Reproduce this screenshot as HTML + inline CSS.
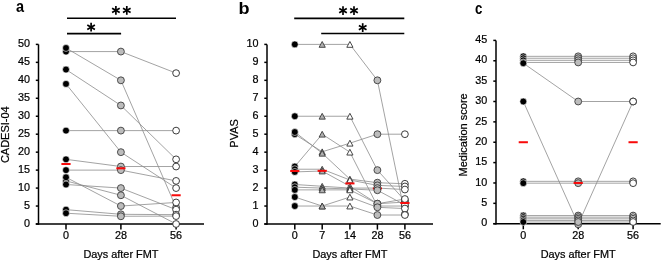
<!DOCTYPE html>
<html><head><meta charset="utf-8"><style>
html,body{margin:0;padding:0;background:#fff;}
svg{display:block;will-change:transform;font-family:"Liberation Sans",sans-serif;}
</style></head><body>
<svg width="669" height="262" viewBox="0 0 669 262">
<line x1="38.5" y1="44.4" x2="38.5" y2="224.75" stroke="#000" stroke-width="1.5"/>
<line x1="35.8" y1="224" x2="204" y2="224" stroke="#000" stroke-width="1.4"/>
<line x1="35.8" y1="224" x2="38.5" y2="224" stroke="#000" stroke-width="1.5"/>
<text x="30" y="226.7" font-size="10.8" text-anchor="end" font-weight="normal" fill="#000" stroke="#000" stroke-width="0.22">0</text>
<line x1="35.8" y1="206.04" x2="38.5" y2="206.04" stroke="#000" stroke-width="1.5"/>
<text x="30" y="208.74" font-size="10.8" text-anchor="end" font-weight="normal" fill="#000" stroke="#000" stroke-width="0.22">5</text>
<line x1="35.8" y1="188.08" x2="38.5" y2="188.08" stroke="#000" stroke-width="1.5"/>
<text x="30" y="190.78" font-size="10.8" text-anchor="end" font-weight="normal" fill="#000" stroke="#000" stroke-width="0.22">10</text>
<line x1="35.8" y1="170.12" x2="38.5" y2="170.12" stroke="#000" stroke-width="1.5"/>
<text x="30" y="172.82" font-size="10.8" text-anchor="end" font-weight="normal" fill="#000" stroke="#000" stroke-width="0.22">15</text>
<line x1="35.8" y1="152.16" x2="38.5" y2="152.16" stroke="#000" stroke-width="1.5"/>
<text x="30" y="154.86" font-size="10.8" text-anchor="end" font-weight="normal" fill="#000" stroke="#000" stroke-width="0.22">20</text>
<line x1="35.8" y1="134.2" x2="38.5" y2="134.2" stroke="#000" stroke-width="1.5"/>
<text x="30" y="136.9" font-size="10.8" text-anchor="end" font-weight="normal" fill="#000" stroke="#000" stroke-width="0.22">25</text>
<line x1="35.8" y1="116.24" x2="38.5" y2="116.24" stroke="#000" stroke-width="1.5"/>
<text x="30" y="118.94" font-size="10.8" text-anchor="end" font-weight="normal" fill="#000" stroke="#000" stroke-width="0.22">30</text>
<line x1="35.8" y1="98.28" x2="38.5" y2="98.28" stroke="#000" stroke-width="1.5"/>
<text x="30" y="100.98" font-size="10.8" text-anchor="end" font-weight="normal" fill="#000" stroke="#000" stroke-width="0.22">35</text>
<line x1="35.8" y1="80.32" x2="38.5" y2="80.32" stroke="#000" stroke-width="1.5"/>
<text x="30" y="83.02" font-size="10.8" text-anchor="end" font-weight="normal" fill="#000" stroke="#000" stroke-width="0.22">40</text>
<line x1="35.8" y1="62.36" x2="38.5" y2="62.36" stroke="#000" stroke-width="1.5"/>
<text x="30" y="65.06" font-size="10.8" text-anchor="end" font-weight="normal" fill="#000" stroke="#000" stroke-width="0.22">45</text>
<line x1="35.8" y1="44.4" x2="38.5" y2="44.4" stroke="#000" stroke-width="1.5"/>
<text x="30" y="47.1" font-size="10.8" text-anchor="end" font-weight="normal" fill="#000" stroke="#000" stroke-width="0.22">50</text>
<line x1="66" y1="224" x2="66" y2="229.6" stroke="#000" stroke-width="1.5"/>
<text x="66" y="238.9" font-size="10.8" text-anchor="middle" font-weight="normal" fill="#000" stroke="#000" stroke-width="0.22">0</text>
<line x1="120.9" y1="224" x2="120.9" y2="229.6" stroke="#000" stroke-width="1.5"/>
<text x="120.9" y="238.9" font-size="10.8" text-anchor="middle" font-weight="normal" fill="#000" stroke="#000" stroke-width="0.22">28</text>
<line x1="176.1" y1="224" x2="176.1" y2="229.6" stroke="#000" stroke-width="1.5"/>
<text x="176.1" y="238.9" font-size="10.8" text-anchor="middle" font-weight="normal" fill="#000" stroke="#000" stroke-width="0.22">56</text>
<line x1="66" y1="51.58" x2="120.9" y2="51.58" stroke="#8c8c8c" stroke-width="0.8"/>
<line x1="120.9" y1="51.58" x2="176.1" y2="73.14" stroke="#8c8c8c" stroke-width="0.8"/>
<line x1="66" y1="47.99" x2="120.9" y2="80.32" stroke="#8c8c8c" stroke-width="0.8"/>
<line x1="120.9" y1="80.32" x2="176.1" y2="207.48" stroke="#8c8c8c" stroke-width="0.8"/>
<line x1="66" y1="69.54" x2="120.9" y2="105.46" stroke="#8c8c8c" stroke-width="0.8"/>
<line x1="120.9" y1="105.46" x2="176.1" y2="159.34" stroke="#8c8c8c" stroke-width="0.8"/>
<line x1="66" y1="83.91" x2="120.9" y2="152.16" stroke="#8c8c8c" stroke-width="0.8"/>
<line x1="120.9" y1="152.16" x2="176.1" y2="188.08" stroke="#8c8c8c" stroke-width="0.8"/>
<line x1="66" y1="130.61" x2="120.9" y2="130.61" stroke="#8c8c8c" stroke-width="0.8"/>
<line x1="120.9" y1="130.61" x2="176.1" y2="130.61" stroke="#8c8c8c" stroke-width="0.8"/>
<line x1="66" y1="159.34" x2="120.9" y2="166.53" stroke="#8c8c8c" stroke-width="0.8"/>
<line x1="120.9" y1="166.53" x2="176.1" y2="166.53" stroke="#8c8c8c" stroke-width="0.8"/>
<line x1="66" y1="170.12" x2="120.9" y2="170.12" stroke="#8c8c8c" stroke-width="0.8"/>
<line x1="120.9" y1="170.12" x2="176.1" y2="180.9" stroke="#8c8c8c" stroke-width="0.8"/>
<line x1="66" y1="180.9" x2="120.9" y2="195.26" stroke="#8c8c8c" stroke-width="0.8"/>
<line x1="120.9" y1="195.26" x2="176.1" y2="224" stroke="#8c8c8c" stroke-width="0.8"/>
<line x1="66" y1="184.49" x2="120.9" y2="188.08" stroke="#8c8c8c" stroke-width="0.8"/>
<line x1="120.9" y1="188.08" x2="176.1" y2="209.63" stroke="#8c8c8c" stroke-width="0.8"/>
<line x1="66" y1="177.3" x2="120.9" y2="206.04" stroke="#8c8c8c" stroke-width="0.8"/>
<line x1="120.9" y1="206.04" x2="176.1" y2="202.45" stroke="#8c8c8c" stroke-width="0.8"/>
<line x1="66" y1="209.63" x2="120.9" y2="214.3" stroke="#8c8c8c" stroke-width="0.8"/>
<line x1="120.9" y1="214.3" x2="176.1" y2="214.66" stroke="#8c8c8c" stroke-width="0.8"/>
<line x1="66" y1="213.22" x2="120.9" y2="216.28" stroke="#8c8c8c" stroke-width="0.8"/>
<line x1="120.9" y1="216.28" x2="176.1" y2="216.1" stroke="#8c8c8c" stroke-width="0.8"/>
<circle cx="66" cy="51.58" r="3.45" fill="#000" stroke="#fff" stroke-width="0.6"/>
<circle cx="66" cy="47.99" r="3.45" fill="#000" stroke="#fff" stroke-width="0.6"/>
<circle cx="66" cy="69.54" r="3.45" fill="#000" stroke="#fff" stroke-width="0.6"/>
<circle cx="66" cy="83.91" r="3.45" fill="#000" stroke="#fff" stroke-width="0.6"/>
<circle cx="66" cy="130.61" r="3.45" fill="#000" stroke="#fff" stroke-width="0.6"/>
<circle cx="66" cy="159.34" r="3.45" fill="#000" stroke="#fff" stroke-width="0.6"/>
<circle cx="66" cy="170.12" r="3.45" fill="#000" stroke="#fff" stroke-width="0.6"/>
<circle cx="66" cy="180.9" r="3.45" fill="#000" stroke="#fff" stroke-width="0.6"/>
<circle cx="66" cy="184.49" r="3.45" fill="#000" stroke="#fff" stroke-width="0.6"/>
<circle cx="66" cy="177.3" r="3.45" fill="#000" stroke="#fff" stroke-width="0.6"/>
<circle cx="66" cy="209.63" r="3.45" fill="#000" stroke="#fff" stroke-width="0.6"/>
<circle cx="66" cy="213.22" r="3.45" fill="#000" stroke="#fff" stroke-width="0.6"/>
<circle cx="120.9" cy="51.58" r="3.45" fill="#bcbcbc" stroke="#3c3c3c" stroke-width="0.9"/>
<circle cx="120.9" cy="80.32" r="3.45" fill="#bcbcbc" stroke="#3c3c3c" stroke-width="0.9"/>
<circle cx="120.9" cy="105.46" r="3.45" fill="#bcbcbc" stroke="#3c3c3c" stroke-width="0.9"/>
<circle cx="120.9" cy="152.16" r="3.45" fill="#bcbcbc" stroke="#3c3c3c" stroke-width="0.9"/>
<circle cx="120.9" cy="130.61" r="3.45" fill="#bcbcbc" stroke="#3c3c3c" stroke-width="0.9"/>
<circle cx="120.9" cy="166.53" r="3.45" fill="#bcbcbc" stroke="#3c3c3c" stroke-width="0.9"/>
<circle cx="120.9" cy="170.12" r="3.45" fill="#bcbcbc" stroke="#3c3c3c" stroke-width="0.9"/>
<circle cx="120.9" cy="195.26" r="3.45" fill="#bcbcbc" stroke="#3c3c3c" stroke-width="0.9"/>
<circle cx="120.9" cy="188.08" r="3.45" fill="#bcbcbc" stroke="#3c3c3c" stroke-width="0.9"/>
<circle cx="120.9" cy="206.04" r="3.45" fill="#bcbcbc" stroke="#3c3c3c" stroke-width="0.9"/>
<circle cx="120.9" cy="214.3" r="3.45" fill="#bcbcbc" stroke="#3c3c3c" stroke-width="0.9"/>
<circle cx="120.9" cy="216.28" r="3.45" fill="#bcbcbc" stroke="#3c3c3c" stroke-width="0.9"/>
<circle cx="176.1" cy="73.14" r="3.4" fill="#fff" stroke="#262626" stroke-width="0.9"/>
<circle cx="176.1" cy="207.48" r="3.4" fill="#fff" stroke="#262626" stroke-width="0.9"/>
<circle cx="176.1" cy="159.34" r="3.4" fill="#fff" stroke="#262626" stroke-width="0.9"/>
<circle cx="176.1" cy="188.08" r="3.4" fill="#fff" stroke="#262626" stroke-width="0.9"/>
<circle cx="176.1" cy="130.61" r="3.4" fill="#fff" stroke="#262626" stroke-width="0.9"/>
<circle cx="176.1" cy="166.53" r="3.4" fill="#fff" stroke="#262626" stroke-width="0.9"/>
<circle cx="176.1" cy="180.9" r="3.4" fill="#fff" stroke="#262626" stroke-width="0.9"/>
<circle cx="176.1" cy="224" r="3.4" fill="#fff" stroke="#262626" stroke-width="0.9"/>
<circle cx="176.1" cy="209.63" r="3.4" fill="#fff" stroke="#262626" stroke-width="0.9"/>
<circle cx="176.1" cy="202.45" r="3.4" fill="#fff" stroke="#262626" stroke-width="0.9"/>
<circle cx="176.1" cy="214.66" r="3.4" fill="#fff" stroke="#262626" stroke-width="0.9"/>
<circle cx="176.1" cy="216.1" r="3.4" fill="#fff" stroke="#262626" stroke-width="0.9"/>
<rect x="61.4" y="163.01" width="9.2" height="2.0" fill="#f80a0a"/>
<rect x="116.3" y="167.32" width="9.2" height="2.0" fill="#f80a0a"/>
<rect x="171.5" y="194.26" width="9.2" height="2.0" fill="#f80a0a"/>
<text x="120.9" y="258.3" font-size="10.9" text-anchor="middle" font-weight="normal" fill="#000" stroke="#000" stroke-width="0.22">Days after FMT</text>
<text x="9.2" y="134.7" font-size="11" text-anchor="middle" font-weight="normal" transform="rotate(-90 9.2 134.7)" fill="#000" stroke="#000" stroke-width="0.22">CADESI-04</text>
<line x1="267" y1="44.4" x2="267" y2="224.75" stroke="#000" stroke-width="1.5"/>
<line x1="264.3" y1="224" x2="433" y2="224" stroke="#000" stroke-width="1.4"/>
<line x1="264.3" y1="224" x2="267" y2="224" stroke="#000" stroke-width="1.5"/>
<text x="258.5" y="226.7" font-size="10.8" text-anchor="end" font-weight="normal" fill="#000" stroke="#000" stroke-width="0.22">0</text>
<line x1="264.3" y1="206.04" x2="267" y2="206.04" stroke="#000" stroke-width="1.5"/>
<text x="258.5" y="208.74" font-size="10.8" text-anchor="end" font-weight="normal" fill="#000" stroke="#000" stroke-width="0.22">1</text>
<line x1="264.3" y1="188.08" x2="267" y2="188.08" stroke="#000" stroke-width="1.5"/>
<text x="258.5" y="190.78" font-size="10.8" text-anchor="end" font-weight="normal" fill="#000" stroke="#000" stroke-width="0.22">2</text>
<line x1="264.3" y1="170.12" x2="267" y2="170.12" stroke="#000" stroke-width="1.5"/>
<text x="258.5" y="172.82" font-size="10.8" text-anchor="end" font-weight="normal" fill="#000" stroke="#000" stroke-width="0.22">3</text>
<line x1="264.3" y1="152.16" x2="267" y2="152.16" stroke="#000" stroke-width="1.5"/>
<text x="258.5" y="154.86" font-size="10.8" text-anchor="end" font-weight="normal" fill="#000" stroke="#000" stroke-width="0.22">4</text>
<line x1="264.3" y1="134.2" x2="267" y2="134.2" stroke="#000" stroke-width="1.5"/>
<text x="258.5" y="136.9" font-size="10.8" text-anchor="end" font-weight="normal" fill="#000" stroke="#000" stroke-width="0.22">5</text>
<line x1="264.3" y1="116.24" x2="267" y2="116.24" stroke="#000" stroke-width="1.5"/>
<text x="258.5" y="118.94" font-size="10.8" text-anchor="end" font-weight="normal" fill="#000" stroke="#000" stroke-width="0.22">6</text>
<line x1="264.3" y1="98.28" x2="267" y2="98.28" stroke="#000" stroke-width="1.5"/>
<text x="258.5" y="100.98" font-size="10.8" text-anchor="end" font-weight="normal" fill="#000" stroke="#000" stroke-width="0.22">7</text>
<line x1="264.3" y1="80.32" x2="267" y2="80.32" stroke="#000" stroke-width="1.5"/>
<text x="258.5" y="83.02" font-size="10.8" text-anchor="end" font-weight="normal" fill="#000" stroke="#000" stroke-width="0.22">8</text>
<line x1="264.3" y1="62.36" x2="267" y2="62.36" stroke="#000" stroke-width="1.5"/>
<text x="258.5" y="65.06" font-size="10.8" text-anchor="end" font-weight="normal" fill="#000" stroke="#000" stroke-width="0.22">9</text>
<line x1="264.3" y1="44.4" x2="267" y2="44.4" stroke="#000" stroke-width="1.5"/>
<text x="258.5" y="47.1" font-size="10.8" text-anchor="end" font-weight="normal" fill="#000" stroke="#000" stroke-width="0.22">10</text>
<line x1="294.8" y1="224" x2="294.8" y2="229.6" stroke="#000" stroke-width="1.5"/>
<text x="294.8" y="238.9" font-size="10.8" text-anchor="middle" font-weight="normal" fill="#000" stroke="#000" stroke-width="0.22">0</text>
<line x1="322.2" y1="224" x2="322.2" y2="229.6" stroke="#000" stroke-width="1.5"/>
<text x="322.2" y="238.9" font-size="10.8" text-anchor="middle" font-weight="normal" fill="#000" stroke="#000" stroke-width="0.22">7</text>
<line x1="349.9" y1="224" x2="349.9" y2="229.6" stroke="#000" stroke-width="1.5"/>
<text x="349.9" y="238.9" font-size="10.8" text-anchor="middle" font-weight="normal" fill="#000" stroke="#000" stroke-width="0.22">14</text>
<line x1="377.4" y1="224" x2="377.4" y2="229.6" stroke="#000" stroke-width="1.5"/>
<text x="377.4" y="238.9" font-size="10.8" text-anchor="middle" font-weight="normal" fill="#000" stroke="#000" stroke-width="0.22">28</text>
<line x1="404.9" y1="224" x2="404.9" y2="229.6" stroke="#000" stroke-width="1.5"/>
<text x="404.9" y="238.9" font-size="10.8" text-anchor="middle" font-weight="normal" fill="#000" stroke="#000" stroke-width="0.22">56</text>
<line x1="294.8" y1="44.4" x2="322.2" y2="44.4" stroke="#8c8c8c" stroke-width="0.8"/>
<line x1="322.2" y1="44.4" x2="349.9" y2="44.4" stroke="#8c8c8c" stroke-width="0.8"/>
<line x1="349.9" y1="44.4" x2="377.4" y2="80.32" stroke="#8c8c8c" stroke-width="0.8"/>
<line x1="377.4" y1="80.32" x2="404.9" y2="214.12" stroke="#8c8c8c" stroke-width="0.8"/>
<line x1="294.8" y1="116.24" x2="322.2" y2="116.24" stroke="#8c8c8c" stroke-width="0.8"/>
<line x1="322.2" y1="116.24" x2="349.9" y2="116.24" stroke="#8c8c8c" stroke-width="0.8"/>
<line x1="349.9" y1="116.24" x2="377.4" y2="170.12" stroke="#8c8c8c" stroke-width="0.8"/>
<line x1="377.4" y1="170.12" x2="404.9" y2="200.65" stroke="#8c8c8c" stroke-width="0.8"/>
<line x1="294.8" y1="134.2" x2="322.2" y2="151.8" stroke="#8c8c8c" stroke-width="0.8"/>
<line x1="322.2" y1="151.8" x2="349.9" y2="143.18" stroke="#8c8c8c" stroke-width="0.8"/>
<line x1="349.9" y1="143.18" x2="377.4" y2="134.2" stroke="#8c8c8c" stroke-width="0.8"/>
<line x1="377.4" y1="134.2" x2="404.9" y2="134.2" stroke="#8c8c8c" stroke-width="0.8"/>
<line x1="294.8" y1="132.04" x2="322.2" y2="153.24" stroke="#8c8c8c" stroke-width="0.8"/>
<line x1="322.2" y1="153.24" x2="349.9" y2="179.1" stroke="#8c8c8c" stroke-width="0.8"/>
<line x1="349.9" y1="179.1" x2="377.4" y2="182.69" stroke="#8c8c8c" stroke-width="0.8"/>
<line x1="377.4" y1="182.69" x2="404.9" y2="183.77" stroke="#8c8c8c" stroke-width="0.8"/>
<line x1="294.8" y1="166.53" x2="322.2" y2="134.2" stroke="#8c8c8c" stroke-width="0.8"/>
<line x1="322.2" y1="134.2" x2="349.9" y2="152.16" stroke="#8c8c8c" stroke-width="0.8"/>
<line x1="349.9" y1="152.16" x2="377.4" y2="206.04" stroke="#8c8c8c" stroke-width="0.8"/>
<line x1="377.4" y1="206.04" x2="404.9" y2="206.04" stroke="#8c8c8c" stroke-width="0.8"/>
<line x1="294.8" y1="169.22" x2="322.2" y2="169.22" stroke="#8c8c8c" stroke-width="0.8"/>
<line x1="322.2" y1="169.22" x2="349.9" y2="180" stroke="#8c8c8c" stroke-width="0.8"/>
<line x1="349.9" y1="180" x2="377.4" y2="185.39" stroke="#8c8c8c" stroke-width="0.8"/>
<line x1="377.4" y1="185.39" x2="404.9" y2="186.46" stroke="#8c8c8c" stroke-width="0.8"/>
<line x1="294.8" y1="171.92" x2="322.2" y2="171.02" stroke="#8c8c8c" stroke-width="0.8"/>
<line x1="322.2" y1="171.02" x2="349.9" y2="186.28" stroke="#8c8c8c" stroke-width="0.8"/>
<line x1="349.9" y1="186.28" x2="377.4" y2="203.71" stroke="#8c8c8c" stroke-width="0.8"/>
<line x1="377.4" y1="203.71" x2="404.9" y2="202.09" stroke="#8c8c8c" stroke-width="0.8"/>
<line x1="294.8" y1="184.49" x2="322.2" y2="186.28" stroke="#8c8c8c" stroke-width="0.8"/>
<line x1="322.2" y1="186.28" x2="349.9" y2="188.08" stroke="#8c8c8c" stroke-width="0.8"/>
<line x1="349.9" y1="188.08" x2="377.4" y2="188.08" stroke="#8c8c8c" stroke-width="0.8"/>
<line x1="377.4" y1="188.08" x2="404.9" y2="189.52" stroke="#8c8c8c" stroke-width="0.8"/>
<line x1="294.8" y1="187.18" x2="322.2" y2="188.08" stroke="#8c8c8c" stroke-width="0.8"/>
<line x1="322.2" y1="188.08" x2="349.9" y2="188.98" stroke="#8c8c8c" stroke-width="0.8"/>
<line x1="349.9" y1="188.98" x2="377.4" y2="190.24" stroke="#8c8c8c" stroke-width="0.8"/>
<line x1="377.4" y1="190.24" x2="404.9" y2="204.96" stroke="#8c8c8c" stroke-width="0.8"/>
<line x1="294.8" y1="189.88" x2="322.2" y2="189.88" stroke="#8c8c8c" stroke-width="0.8"/>
<line x1="322.2" y1="189.88" x2="349.9" y2="189.88" stroke="#8c8c8c" stroke-width="0.8"/>
<line x1="349.9" y1="189.88" x2="377.4" y2="203.71" stroke="#8c8c8c" stroke-width="0.8"/>
<line x1="377.4" y1="203.71" x2="404.9" y2="199.04" stroke="#8c8c8c" stroke-width="0.8"/>
<line x1="294.8" y1="197.06" x2="322.2" y2="206.04" stroke="#8c8c8c" stroke-width="0.8"/>
<line x1="322.2" y1="206.04" x2="349.9" y2="197.06" stroke="#8c8c8c" stroke-width="0.8"/>
<line x1="349.9" y1="197.06" x2="377.4" y2="207.3" stroke="#8c8c8c" stroke-width="0.8"/>
<line x1="377.4" y1="207.3" x2="404.9" y2="208.55" stroke="#8c8c8c" stroke-width="0.8"/>
<line x1="294.8" y1="206.04" x2="322.2" y2="206.04" stroke="#8c8c8c" stroke-width="0.8"/>
<line x1="322.2" y1="206.04" x2="349.9" y2="206.04" stroke="#8c8c8c" stroke-width="0.8"/>
<line x1="349.9" y1="206.04" x2="377.4" y2="215.02" stroke="#8c8c8c" stroke-width="0.8"/>
<line x1="377.4" y1="215.02" x2="404.9" y2="215.02" stroke="#8c8c8c" stroke-width="0.8"/>
<rect x="372.8" y="187.44" width="9.2" height="2.0" fill="#f80a0a"/>
<circle cx="294.8" cy="44.4" r="3.45" fill="#000" stroke="#fff" stroke-width="0.6"/>
<circle cx="294.8" cy="116.24" r="3.45" fill="#000" stroke="#fff" stroke-width="0.6"/>
<circle cx="294.8" cy="134.2" r="3.45" fill="#000" stroke="#fff" stroke-width="0.6"/>
<circle cx="294.8" cy="132.04" r="3.45" fill="#000" stroke="#fff" stroke-width="0.6"/>
<circle cx="294.8" cy="166.53" r="3.45" fill="#000" stroke="#fff" stroke-width="0.6"/>
<circle cx="294.8" cy="169.22" r="3.45" fill="#000" stroke="#fff" stroke-width="0.6"/>
<circle cx="294.8" cy="171.92" r="3.45" fill="#000" stroke="#fff" stroke-width="0.6"/>
<circle cx="294.8" cy="184.49" r="3.45" fill="#000" stroke="#fff" stroke-width="0.6"/>
<circle cx="294.8" cy="187.18" r="3.45" fill="#000" stroke="#fff" stroke-width="0.6"/>
<circle cx="294.8" cy="189.88" r="3.45" fill="#000" stroke="#fff" stroke-width="0.6"/>
<circle cx="294.8" cy="197.06" r="3.45" fill="#000" stroke="#fff" stroke-width="0.6"/>
<circle cx="294.8" cy="206.04" r="3.45" fill="#000" stroke="#fff" stroke-width="0.6"/>
<path d="M322.2 41.5L325.3 47.3L319.1 47.3Z" fill="#b0b0b0" stroke="#3a3a3a" stroke-width="0.9" stroke-linejoin="miter"/>
<path d="M322.2 113.34L325.3 119.14L319.1 119.14Z" fill="#b0b0b0" stroke="#3a3a3a" stroke-width="0.9" stroke-linejoin="miter"/>
<path d="M322.2 148.9L325.3 154.7L319.1 154.7Z" fill="#b0b0b0" stroke="#3a3a3a" stroke-width="0.9" stroke-linejoin="miter"/>
<path d="M322.2 150.34L325.3 156.14L319.1 156.14Z" fill="#b0b0b0" stroke="#3a3a3a" stroke-width="0.9" stroke-linejoin="miter"/>
<path d="M322.2 131.3L325.3 137.1L319.1 137.1Z" fill="#b0b0b0" stroke="#3a3a3a" stroke-width="0.9" stroke-linejoin="miter"/>
<path d="M322.2 166.32L325.3 172.12L319.1 172.12Z" fill="#b0b0b0" stroke="#3a3a3a" stroke-width="0.9" stroke-linejoin="miter"/>
<path d="M322.2 168.12L325.3 173.92L319.1 173.92Z" fill="#b0b0b0" stroke="#3a3a3a" stroke-width="0.9" stroke-linejoin="miter"/>
<path d="M322.2 183.38L325.3 189.18L319.1 189.18Z" fill="#b0b0b0" stroke="#3a3a3a" stroke-width="0.9" stroke-linejoin="miter"/>
<path d="M322.2 185.18L325.3 190.98L319.1 190.98Z" fill="#b0b0b0" stroke="#3a3a3a" stroke-width="0.9" stroke-linejoin="miter"/>
<path d="M322.2 186.98L325.3 192.78L319.1 192.78Z" fill="#b0b0b0" stroke="#3a3a3a" stroke-width="0.9" stroke-linejoin="miter"/>
<path d="M322.2 203.14L325.3 208.94L319.1 208.94Z" fill="#b0b0b0" stroke="#3a3a3a" stroke-width="0.9" stroke-linejoin="miter"/>
<path d="M322.2 203.14L325.3 208.94L319.1 208.94Z" fill="#b0b0b0" stroke="#3a3a3a" stroke-width="0.9" stroke-linejoin="miter"/>
<path d="M349.9 41.5L353 47.3L346.8 47.3Z" fill="#fff" stroke="#333" stroke-width="0.9" stroke-linejoin="miter"/>
<path d="M349.9 113.34L353 119.14L346.8 119.14Z" fill="#fff" stroke="#333" stroke-width="0.9" stroke-linejoin="miter"/>
<path d="M349.9 140.28L353 146.08L346.8 146.08Z" fill="#fff" stroke="#333" stroke-width="0.9" stroke-linejoin="miter"/>
<path d="M349.9 176.2L353 182L346.8 182Z" fill="#fff" stroke="#333" stroke-width="0.9" stroke-linejoin="miter"/>
<path d="M349.9 149.26L353 155.06L346.8 155.06Z" fill="#fff" stroke="#333" stroke-width="0.9" stroke-linejoin="miter"/>
<path d="M349.9 177.1L353 182.9L346.8 182.9Z" fill="#fff" stroke="#333" stroke-width="0.9" stroke-linejoin="miter"/>
<path d="M349.9 183.38L353 189.18L346.8 189.18Z" fill="#fff" stroke="#333" stroke-width="0.9" stroke-linejoin="miter"/>
<path d="M349.9 185.18L353 190.98L346.8 190.98Z" fill="#fff" stroke="#333" stroke-width="0.9" stroke-linejoin="miter"/>
<path d="M349.9 186.08L353 191.88L346.8 191.88Z" fill="#fff" stroke="#333" stroke-width="0.9" stroke-linejoin="miter"/>
<path d="M349.9 186.98L353 192.78L346.8 192.78Z" fill="#fff" stroke="#333" stroke-width="0.9" stroke-linejoin="miter"/>
<path d="M349.9 194.16L353 199.96L346.8 199.96Z" fill="#fff" stroke="#333" stroke-width="0.9" stroke-linejoin="miter"/>
<path d="M349.9 203.14L353 208.94L346.8 208.94Z" fill="#fff" stroke="#333" stroke-width="0.9" stroke-linejoin="miter"/>
<circle cx="377.4" cy="80.32" r="3.45" fill="#bcbcbc" stroke="#3c3c3c" stroke-width="0.9"/>
<circle cx="377.4" cy="170.12" r="3.45" fill="#bcbcbc" stroke="#3c3c3c" stroke-width="0.9"/>
<circle cx="377.4" cy="134.2" r="3.45" fill="#bcbcbc" stroke="#3c3c3c" stroke-width="0.9"/>
<circle cx="377.4" cy="182.69" r="3.45" fill="#bcbcbc" stroke="#3c3c3c" stroke-width="0.9"/>
<circle cx="377.4" cy="206.04" r="3.45" fill="#bcbcbc" stroke="#3c3c3c" stroke-width="0.9"/>
<circle cx="377.4" cy="185.39" r="3.45" fill="#bcbcbc" stroke="#3c3c3c" stroke-width="0.9"/>
<circle cx="377.4" cy="203.71" r="3.45" fill="#bcbcbc" stroke="#3c3c3c" stroke-width="0.9"/>
<circle cx="377.4" cy="188.08" r="3.45" fill="#bcbcbc" stroke="#3c3c3c" stroke-width="0.9"/>
<circle cx="377.4" cy="190.24" r="3.45" fill="#bcbcbc" stroke="#3c3c3c" stroke-width="0.9"/>
<circle cx="377.4" cy="203.71" r="3.45" fill="#bcbcbc" stroke="#3c3c3c" stroke-width="0.9"/>
<circle cx="377.4" cy="207.3" r="3.45" fill="#bcbcbc" stroke="#3c3c3c" stroke-width="0.9"/>
<circle cx="377.4" cy="215.02" r="3.45" fill="#bcbcbc" stroke="#3c3c3c" stroke-width="0.9"/>
<circle cx="404.9" cy="214.12" r="3.4" fill="#fff" stroke="#262626" stroke-width="0.9"/>
<circle cx="404.9" cy="200.65" r="3.4" fill="#fff" stroke="#262626" stroke-width="0.9"/>
<circle cx="404.9" cy="134.2" r="3.4" fill="#fff" stroke="#262626" stroke-width="0.9"/>
<circle cx="404.9" cy="183.77" r="3.4" fill="#fff" stroke="#262626" stroke-width="0.9"/>
<circle cx="404.9" cy="206.04" r="3.4" fill="#fff" stroke="#262626" stroke-width="0.9"/>
<circle cx="404.9" cy="186.46" r="3.4" fill="#fff" stroke="#262626" stroke-width="0.9"/>
<circle cx="404.9" cy="202.09" r="3.4" fill="#fff" stroke="#262626" stroke-width="0.9"/>
<circle cx="404.9" cy="189.52" r="3.4" fill="#fff" stroke="#262626" stroke-width="0.9"/>
<circle cx="404.9" cy="204.96" r="3.4" fill="#fff" stroke="#262626" stroke-width="0.9"/>
<circle cx="404.9" cy="199.04" r="3.4" fill="#fff" stroke="#262626" stroke-width="0.9"/>
<circle cx="404.9" cy="208.55" r="3.4" fill="#fff" stroke="#262626" stroke-width="0.9"/>
<circle cx="404.9" cy="215.02" r="3.4" fill="#fff" stroke="#262626" stroke-width="0.9"/>
<rect x="290.2" y="170.02" width="9.2" height="2.0" fill="#f80a0a"/>
<rect x="317.6" y="169.84" width="9.2" height="2.0" fill="#f80a0a"/>
<rect x="345.3" y="182.41" width="9.2" height="2.0" fill="#f80a0a"/>
<rect x="400.3" y="201.99" width="9.2" height="2.0" fill="#f80a0a"/>
<text x="349.9" y="258.3" font-size="10.9" text-anchor="middle" font-weight="normal" fill="#000" stroke="#000" stroke-width="0.22">Days after FMT</text>
<text x="238.3" y="133.4" font-size="11" text-anchor="middle" font-weight="normal" transform="rotate(-90 238.3 133.4)" fill="#000" stroke="#000" stroke-width="0.22">PVAS</text>
<line x1="496" y1="40.4" x2="496" y2="224.45" stroke="#000" stroke-width="1.5"/>
<line x1="493.3" y1="223.7" x2="660.7" y2="223.7" stroke="#000" stroke-width="1.4"/>
<line x1="493.3" y1="223.7" x2="496" y2="223.7" stroke="#000" stroke-width="1.5"/>
<text x="487.3" y="226.4" font-size="10.8" text-anchor="end" font-weight="normal" fill="#000" stroke="#000" stroke-width="0.22">0</text>
<line x1="493.3" y1="203.33" x2="496" y2="203.33" stroke="#000" stroke-width="1.5"/>
<text x="487.3" y="206.03" font-size="10.8" text-anchor="end" font-weight="normal" fill="#000" stroke="#000" stroke-width="0.22">5</text>
<line x1="493.3" y1="182.97" x2="496" y2="182.97" stroke="#000" stroke-width="1.5"/>
<text x="487.3" y="185.67" font-size="10.8" text-anchor="end" font-weight="normal" fill="#000" stroke="#000" stroke-width="0.22">10</text>
<line x1="493.3" y1="162.6" x2="496" y2="162.6" stroke="#000" stroke-width="1.5"/>
<text x="487.3" y="165.3" font-size="10.8" text-anchor="end" font-weight="normal" fill="#000" stroke="#000" stroke-width="0.22">15</text>
<line x1="493.3" y1="142.23" x2="496" y2="142.23" stroke="#000" stroke-width="1.5"/>
<text x="487.3" y="144.93" font-size="10.8" text-anchor="end" font-weight="normal" fill="#000" stroke="#000" stroke-width="0.22">20</text>
<line x1="493.3" y1="121.87" x2="496" y2="121.87" stroke="#000" stroke-width="1.5"/>
<text x="487.3" y="124.57" font-size="10.8" text-anchor="end" font-weight="normal" fill="#000" stroke="#000" stroke-width="0.22">25</text>
<line x1="493.3" y1="101.5" x2="496" y2="101.5" stroke="#000" stroke-width="1.5"/>
<text x="487.3" y="104.2" font-size="10.8" text-anchor="end" font-weight="normal" fill="#000" stroke="#000" stroke-width="0.22">30</text>
<line x1="493.3" y1="81.13" x2="496" y2="81.13" stroke="#000" stroke-width="1.5"/>
<text x="487.3" y="83.83" font-size="10.8" text-anchor="end" font-weight="normal" fill="#000" stroke="#000" stroke-width="0.22">35</text>
<line x1="493.3" y1="60.77" x2="496" y2="60.77" stroke="#000" stroke-width="1.5"/>
<text x="487.3" y="63.47" font-size="10.8" text-anchor="end" font-weight="normal" fill="#000" stroke="#000" stroke-width="0.22">40</text>
<line x1="493.3" y1="40.4" x2="496" y2="40.4" stroke="#000" stroke-width="1.5"/>
<text x="487.3" y="43.1" font-size="10.8" text-anchor="end" font-weight="normal" fill="#000" stroke="#000" stroke-width="0.22">45</text>
<line x1="523.3" y1="223.7" x2="523.3" y2="229.3" stroke="#000" stroke-width="1.5"/>
<text x="523.3" y="238.9" font-size="10.8" text-anchor="middle" font-weight="normal" fill="#000" stroke="#000" stroke-width="0.22">0</text>
<line x1="578.2" y1="223.7" x2="578.2" y2="229.3" stroke="#000" stroke-width="1.5"/>
<text x="578.2" y="238.9" font-size="10.8" text-anchor="middle" font-weight="normal" fill="#000" stroke="#000" stroke-width="0.22">28</text>
<line x1="633.1" y1="223.7" x2="633.1" y2="229.3" stroke="#000" stroke-width="1.5"/>
<text x="633.1" y="238.9" font-size="10.8" text-anchor="middle" font-weight="normal" fill="#000" stroke="#000" stroke-width="0.22">56</text>
<line x1="523.3" y1="56.33" x2="578.2" y2="56.33" stroke="#8c8c8c" stroke-width="0.8"/>
<line x1="578.2" y1="56.33" x2="633.1" y2="56.33" stroke="#8c8c8c" stroke-width="0.8"/>
<line x1="523.3" y1="58.24" x2="578.2" y2="58.24" stroke="#8c8c8c" stroke-width="0.8"/>
<line x1="578.2" y1="58.24" x2="633.1" y2="58.24" stroke="#8c8c8c" stroke-width="0.8"/>
<line x1="523.3" y1="60.32" x2="578.2" y2="60.32" stroke="#8c8c8c" stroke-width="0.8"/>
<line x1="578.2" y1="60.32" x2="633.1" y2="60.32" stroke="#8c8c8c" stroke-width="0.8"/>
<line x1="523.3" y1="62.44" x2="578.2" y2="62.44" stroke="#8c8c8c" stroke-width="0.8"/>
<line x1="578.2" y1="62.44" x2="633.1" y2="62.44" stroke="#8c8c8c" stroke-width="0.8"/>
<line x1="523.3" y1="63.21" x2="578.2" y2="101.5" stroke="#8c8c8c" stroke-width="0.8"/>
<line x1="578.2" y1="101.5" x2="633.1" y2="101.5" stroke="#8c8c8c" stroke-width="0.8"/>
<line x1="523.3" y1="101.5" x2="578.2" y2="224.31" stroke="#8c8c8c" stroke-width="0.8"/>
<line x1="578.2" y1="224.31" x2="633.1" y2="101.5" stroke="#8c8c8c" stroke-width="0.8"/>
<line x1="523.3" y1="181.34" x2="578.2" y2="181.34" stroke="#8c8c8c" stroke-width="0.8"/>
<line x1="578.2" y1="181.34" x2="633.1" y2="181.34" stroke="#8c8c8c" stroke-width="0.8"/>
<line x1="523.3" y1="183.17" x2="578.2" y2="183.17" stroke="#8c8c8c" stroke-width="0.8"/>
<line x1="578.2" y1="183.17" x2="633.1" y2="183.17" stroke="#8c8c8c" stroke-width="0.8"/>
<line x1="523.3" y1="215.55" x2="578.2" y2="215.55" stroke="#8c8c8c" stroke-width="0.8"/>
<line x1="578.2" y1="215.55" x2="633.1" y2="215.55" stroke="#8c8c8c" stroke-width="0.8"/>
<line x1="523.3" y1="217.18" x2="578.2" y2="217.18" stroke="#8c8c8c" stroke-width="0.8"/>
<line x1="578.2" y1="217.18" x2="633.1" y2="217.18" stroke="#8c8c8c" stroke-width="0.8"/>
<line x1="523.3" y1="218.81" x2="578.2" y2="218.81" stroke="#8c8c8c" stroke-width="0.8"/>
<line x1="578.2" y1="218.81" x2="633.1" y2="218.81" stroke="#8c8c8c" stroke-width="0.8"/>
<line x1="523.3" y1="220.44" x2="578.2" y2="220.44" stroke="#8c8c8c" stroke-width="0.8"/>
<line x1="578.2" y1="220.44" x2="633.1" y2="220.44" stroke="#8c8c8c" stroke-width="0.8"/>
<line x1="523.3" y1="221.99" x2="578.2" y2="221.99" stroke="#8c8c8c" stroke-width="0.8"/>
<line x1="578.2" y1="221.99" x2="633.1" y2="221.99" stroke="#8c8c8c" stroke-width="0.8"/>
<circle cx="523.3" cy="56.33" r="3.45" fill="#000" stroke="#fff" stroke-width="0.6"/>
<circle cx="523.3" cy="58.24" r="3.45" fill="#000" stroke="#fff" stroke-width="0.6"/>
<circle cx="523.3" cy="60.32" r="3.45" fill="#000" stroke="#fff" stroke-width="0.6"/>
<circle cx="523.3" cy="62.44" r="3.45" fill="#000" stroke="#fff" stroke-width="0.6"/>
<circle cx="523.3" cy="63.21" r="3.45" fill="#000" stroke="#fff" stroke-width="0.6"/>
<circle cx="523.3" cy="101.5" r="3.45" fill="#000" stroke="#fff" stroke-width="0.6"/>
<circle cx="523.3" cy="181.34" r="3.45" fill="#000" stroke="#fff" stroke-width="0.6"/>
<circle cx="523.3" cy="183.17" r="3.45" fill="#000" stroke="#fff" stroke-width="0.6"/>
<circle cx="523.3" cy="215.55" r="3.45" fill="#000" stroke="#fff" stroke-width="0.6"/>
<circle cx="523.3" cy="217.18" r="3.45" fill="#000" stroke="#fff" stroke-width="0.6"/>
<circle cx="523.3" cy="218.81" r="3.45" fill="#000" stroke="#fff" stroke-width="0.6"/>
<circle cx="523.3" cy="220.44" r="3.45" fill="#000" stroke="#fff" stroke-width="0.6"/>
<circle cx="523.3" cy="221.99" r="3.45" fill="#000" stroke="#fff" stroke-width="0.6"/>
<circle cx="578.2" cy="56.33" r="3.45" fill="#bcbcbc" stroke="#3c3c3c" stroke-width="0.9"/>
<circle cx="578.2" cy="58.24" r="3.45" fill="#bcbcbc" stroke="#3c3c3c" stroke-width="0.9"/>
<circle cx="578.2" cy="60.32" r="3.45" fill="#bcbcbc" stroke="#3c3c3c" stroke-width="0.9"/>
<circle cx="578.2" cy="62.44" r="3.45" fill="#bcbcbc" stroke="#3c3c3c" stroke-width="0.9"/>
<circle cx="578.2" cy="101.5" r="3.45" fill="#bcbcbc" stroke="#3c3c3c" stroke-width="0.9"/>
<circle cx="578.2" cy="224.31" r="3.45" fill="#bcbcbc" stroke="#3c3c3c" stroke-width="0.9"/>
<circle cx="578.2" cy="181.34" r="3.45" fill="#bcbcbc" stroke="#3c3c3c" stroke-width="0.9"/>
<circle cx="578.2" cy="183.17" r="3.45" fill="#bcbcbc" stroke="#3c3c3c" stroke-width="0.9"/>
<circle cx="578.2" cy="215.55" r="3.45" fill="#bcbcbc" stroke="#3c3c3c" stroke-width="0.9"/>
<circle cx="578.2" cy="217.18" r="3.45" fill="#bcbcbc" stroke="#3c3c3c" stroke-width="0.9"/>
<circle cx="578.2" cy="218.81" r="3.45" fill="#bcbcbc" stroke="#3c3c3c" stroke-width="0.9"/>
<circle cx="578.2" cy="220.44" r="3.45" fill="#bcbcbc" stroke="#3c3c3c" stroke-width="0.9"/>
<circle cx="578.2" cy="221.99" r="3.45" fill="#bcbcbc" stroke="#3c3c3c" stroke-width="0.9"/>
<circle cx="633.1" cy="56.33" r="3.4" fill="#fff" stroke="#262626" stroke-width="0.9"/>
<circle cx="633.1" cy="58.24" r="3.4" fill="#fff" stroke="#262626" stroke-width="0.9"/>
<circle cx="633.1" cy="60.32" r="3.4" fill="#fff" stroke="#262626" stroke-width="0.9"/>
<circle cx="633.1" cy="62.44" r="3.4" fill="#fff" stroke="#262626" stroke-width="0.9"/>
<circle cx="633.1" cy="101.5" r="3.4" fill="#fff" stroke="#262626" stroke-width="0.9"/>
<circle cx="633.1" cy="101.5" r="3.4" fill="#fff" stroke="#262626" stroke-width="0.9"/>
<circle cx="633.1" cy="181.34" r="3.4" fill="#fff" stroke="#262626" stroke-width="0.9"/>
<circle cx="633.1" cy="183.17" r="3.4" fill="#fff" stroke="#262626" stroke-width="0.9"/>
<circle cx="633.1" cy="215.55" r="3.4" fill="#fff" stroke="#262626" stroke-width="0.9"/>
<circle cx="633.1" cy="217.18" r="3.4" fill="#fff" stroke="#262626" stroke-width="0.9"/>
<circle cx="633.1" cy="218.81" r="3.4" fill="#fff" stroke="#262626" stroke-width="0.9"/>
<circle cx="633.1" cy="220.44" r="3.4" fill="#fff" stroke="#262626" stroke-width="0.9"/>
<circle cx="633.1" cy="221.99" r="3.4" fill="#fff" stroke="#262626" stroke-width="0.9"/>
<rect x="518.7" y="141.23" width="9.2" height="2.0" fill="#f80a0a"/>
<rect x="573.6" y="181.97" width="9.2" height="2.0" fill="#f80a0a"/>
<rect x="628.5" y="141.23" width="9.2" height="2.0" fill="#f80a0a"/>
<text x="578.2" y="258.3" font-size="10.9" text-anchor="middle" font-weight="normal" fill="#000" stroke="#000" stroke-width="0.22">Days after FMT</text>
<text x="466.8" y="134.9" font-size="11" text-anchor="middle" font-weight="normal" transform="rotate(-90 466.8 134.9)" fill="#000" stroke="#000" stroke-width="0.22">Medication score</text>
<text transform="translate(16.05 11.9) scale(0.89 1)" font-size="16.3" font-weight="bold">a</text>
<text transform="translate(238.4 14.0) scale(1.07 1)" font-size="16.9" font-weight="bold">b</text>
<text transform="translate(474.9 14.0) scale(0.83 1)" font-size="16.0" font-weight="bold">c</text>
<line x1="67" y1="18.2" x2="176" y2="18.2" stroke="#000" stroke-width="1.6"/>
<line x1="115.9" y1="6" x2="115.9" y2="14.8" stroke="#000" stroke-width="1.7"/>
<line x1="112.09" y1="8.2" x2="119.71" y2="12.6" stroke="#000" stroke-width="1.7"/>
<line x1="119.71" y1="8.2" x2="112.09" y2="12.6" stroke="#000" stroke-width="1.7"/>
<line x1="126.8" y1="6" x2="126.8" y2="14.8" stroke="#000" stroke-width="1.7"/>
<line x1="122.99" y1="8.2" x2="130.61" y2="12.6" stroke="#000" stroke-width="1.7"/>
<line x1="130.61" y1="8.2" x2="122.99" y2="12.6" stroke="#000" stroke-width="1.7"/>
<line x1="67" y1="33.6" x2="121.1" y2="33.6" stroke="#000" stroke-width="1.6"/>
<line x1="91.1" y1="22.8" x2="91.1" y2="31.6" stroke="#000" stroke-width="1.7"/>
<line x1="87.29" y1="25" x2="94.91" y2="29.4" stroke="#000" stroke-width="1.7"/>
<line x1="94.91" y1="25" x2="87.29" y2="29.4" stroke="#000" stroke-width="1.7"/>
<line x1="294.2" y1="18.4" x2="404.3" y2="18.4" stroke="#000" stroke-width="1.6"/>
<line x1="343" y1="6.2" x2="343" y2="15" stroke="#000" stroke-width="1.7"/>
<line x1="339.19" y1="8.4" x2="346.81" y2="12.8" stroke="#000" stroke-width="1.7"/>
<line x1="346.81" y1="8.4" x2="339.19" y2="12.8" stroke="#000" stroke-width="1.7"/>
<line x1="354" y1="6.2" x2="354" y2="15" stroke="#000" stroke-width="1.7"/>
<line x1="350.19" y1="8.4" x2="357.81" y2="12.8" stroke="#000" stroke-width="1.7"/>
<line x1="357.81" y1="8.4" x2="350.19" y2="12.8" stroke="#000" stroke-width="1.7"/>
<line x1="321.2" y1="33.5" x2="404.3" y2="33.5" stroke="#000" stroke-width="1.6"/>
<line x1="362.7" y1="23.2" x2="362.7" y2="32" stroke="#000" stroke-width="1.7"/>
<line x1="358.89" y1="25.4" x2="366.51" y2="29.8" stroke="#000" stroke-width="1.7"/>
<line x1="366.51" y1="25.4" x2="358.89" y2="29.8" stroke="#000" stroke-width="1.7"/>
</svg></body></html>
